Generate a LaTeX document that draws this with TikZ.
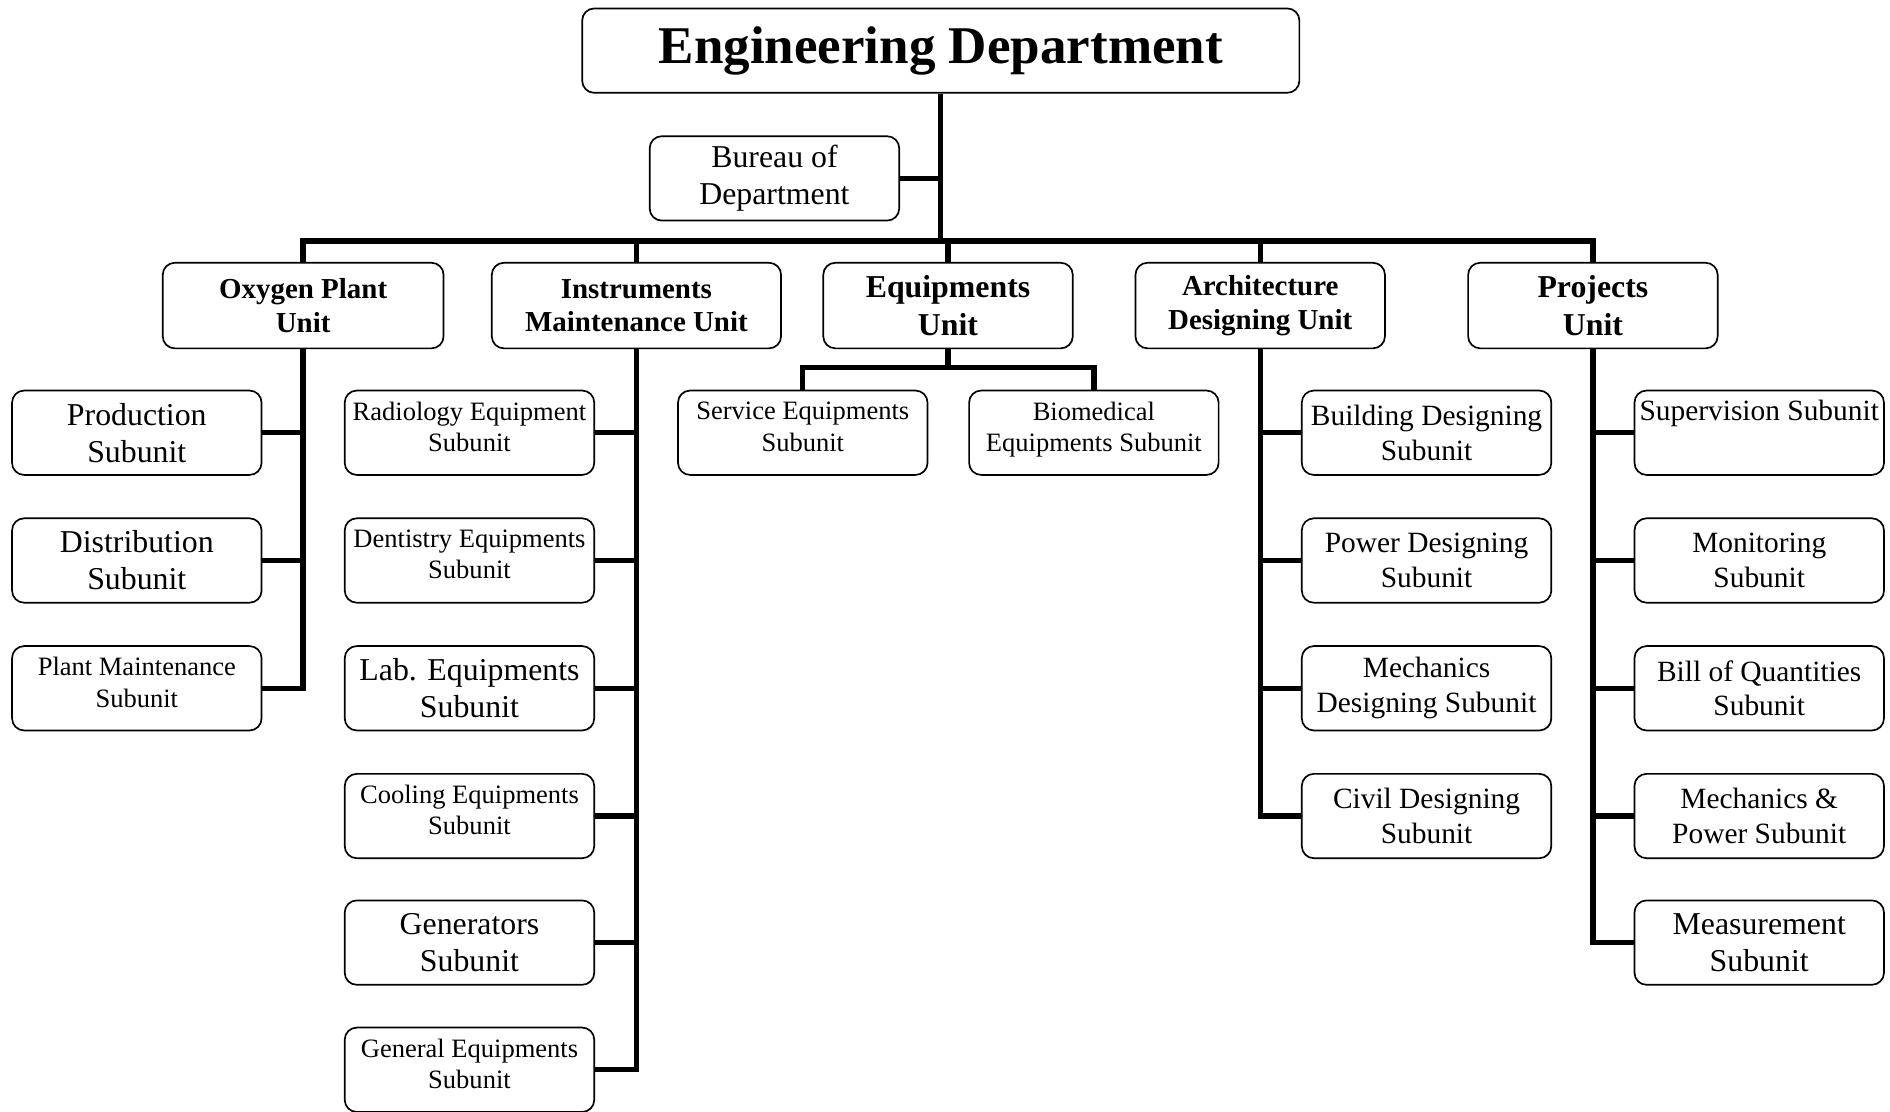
\documentclass[tikz,border=0pt]{standalone}
\usepackage{fontspec}
\setmainfont{Liberation Serif}
\begin{document}
\begin{tikzpicture}[x=0.5pt, y=-0.5pt,
        box/.style={draw, rounded corners=5pt, line width=0.7pt, fill=white, align=center,
                    inner sep=1pt, minimum width=103.5pt, minimum height=35pt},
        unitbox/.style={box, font=\fontsize{12}{14}\selectfont\bfseries, minimum height=35.5pt},
        bigunit/.style={box, font=\fontsize{13.2}{15.5}\selectfont\bfseries, minimum height=35.5pt},
        bigsub/.style={box, font=\fontsize{13.2}{15.3}\selectfont},
        midsub/.style={box, font=\fontsize{12.2}{14.5}\selectfont},
        smallsub/.style={box, font=\fontsize{11}{13}\selectfont, text depth=5pt},
        link/.style={line width=2.2pt}]
    \useasboundingbox (0,0) rectangle (1568,922);

    \node[box, minimum width=297.5pt, font=\fontsize{22}{26}\selectfont\bfseries] (title) at (780.5, 42.0) {Engineering Department};
    \node[bigsub]                         (bureau) at ( 642.5, 148.0) {Bureau of\\Department};

    \node[unitbox, minimum width=116.5pt] (oxy)    at ( 251.5, 253.5) {Oxygen Plant\\Unit};
    \node[unitbox, minimum width=120pt]   (inst)   at ( 528.0, 253.5) {Instruments\\Maintenance Unit};
    \node[bigunit]                        (equ)    at ( 786.5, 253.5) {Equipments\\Unit};
    \node[unitbox]                        (arch)   at (1045.5, 253.5) {Architecture\\Designing Unit};
    \node[bigunit]                        (proj)   at (1321.5, 253.5) {Projects\\Unit};

    \node[bigsub]   (prod)    at ( 113.5, 359.0) {Production\\Subunit};
    \node[bigsub]   (dist)    at ( 113.5, 465.0) {Distribution\\Subunit};
    \node[smallsub] (plant)   at ( 113.5, 571.0) {Plant Maintenance\\Subunit};

    \node[smallsub] (radio)   at ( 389.5, 359.0) {Radiology Equipment\\Subunit};
    \node[smallsub] (dent)    at ( 389.5, 465.0) {Dentistry Equipments\\Subunit};
    \node[bigsub]   (lab)     at ( 389.5, 571.0) {Lab. Equipments\\Subunit};
    \node[smallsub] (cool)    at ( 389.5, 677.0) {Cooling Equipments\\Subunit};
    \node[bigsub]   (gen)     at ( 389.5, 782.0) {Generators\\Subunit};
    \node[smallsub] (general) at ( 389.5, 887.5) {General Equipments\\Subunit};

    \node[smallsub] (serv)    at ( 666.0, 359.0) {Service Equipments\\Subunit};
    \node[smallsub] (bio)     at ( 907.5, 359.0) {Biomedical\\Equipments Subunit};

    \node[midsub]   (build)   at (1183.5, 359.0) {Building Designing\\Subunit};
    \node[midsub]   (power)   at (1183.5, 465.0) {Power Designing\\Subunit};
    \node[midsub]   (mech)    at (1183.5, 571.0) {Mechanics\\Designing Subunit};
    \node[midsub]   (civil)   at (1183.5, 677.0) {Civil Designing\\Subunit};

    \node[midsub]   (super)   at (1459.5, 359.0) {Supervision Subunit\\\strut};
    \node[midsub]   (monit)   at (1459.5, 465.0) {Monitoring\\Subunit};
    \node[midsub]   (bill)    at (1459.5, 571.0) {Bill of Quantities\\Subunit};
    \node[midsub]   (mepow)   at (1459.5, 677.0) {Mechanics \&\\Power Subunit};
    \node[bigsub]   (meas)    at (1459.5, 782.0) {Measurement\\Subunit};

    \coordinate (hub)    at (780.5, 200.0);
    \coordinate (eqfork) at (786.5, 305.0);

    \draw[link] (title.south) -- (hub);
    \draw[link] (bureau.east) -- (bureau.east -| hub);
    \foreach \u in {oxy, inst, equ, arch, proj}
        \draw[link] (hub) -| (\u.north);

    \foreach \s in {prod, dist, plant}
        \draw[link] (oxy.south) |- (\s.east);
    \foreach \s in {radio, dent, lab, cool, gen, general}
        \draw[link] (inst.south) |- (\s.east);
    \draw[link] (equ.south) -- (eqfork) -| (serv.north);
    \draw[link] (eqfork) -| (bio.north);
    \foreach \s in {build, power, mech, civil}
        \draw[link] (arch.south) |- (\s.west);
    \foreach \s in {super, monit, bill, mepow, meas}
        \draw[link] (proj.south) |- (\s.west);
\end{tikzpicture}
\end{document}
